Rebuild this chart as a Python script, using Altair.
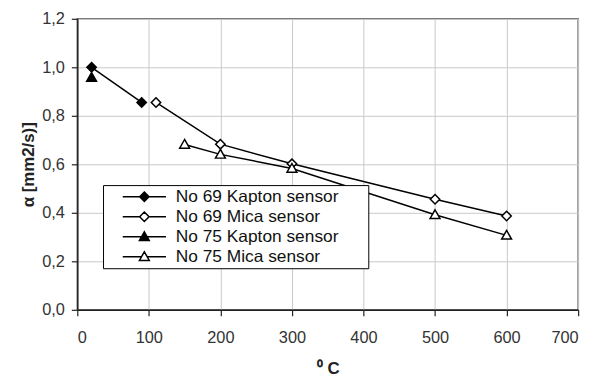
import altair as alt
import pandas as pd

# ---- data ----
series = ["No 69 Kapton sensor", "No 69 Mica sensor", "No 75 Kapton sensor", "No 75 Mica sensor"]

x69k = [20, 90]
y69k = [1.0, 0.855]

x69m = [110, 200, 300, 500, 600]
y69m = [0.855, 0.683, 0.602, 0.456, 0.387]

x75k = [20]
y75k = [0.958]

x75m = [150, 200, 300, 500, 600]
y75m = [0.682, 0.641, 0.583, 0.392, 0.307]

x_ticks = [0, 100, 200, 300, 400, 500, 600, 700]
y_ticks = [0.0, 0.2, 0.4, 0.6, 0.8, 1.0, 1.2]

rows = []
for name, xs, ys in zip(series, [x69k, x69m, x75k, x75m], [y69k, y69m, y75k, y75m]):
    for xv, yv in zip(xs, ys):
        rows.append({"series": name, "x": xv, "y": yv})
df = pd.DataFrame(rows)

# ---- styles ----
FONT = "Liberation Sans"
DIAMOND = "M0,-1L1,0L0,1L-1,0Z"
TRI = "M0,-1.05L1.05,0.8L-1.05,0.8Z"
LEG_DIAMOND = "M-4.6,0H-1M1,0H4.6M0,-1L1,0L0,1L-1,0Z"
LEG_TRI = "M-4.6,0H-0.58M0.58,0H4.6M0,-1.05L1.05,0.8L-1.05,0.8Z"
fills = ["black", "white", "black", "white"]
strokes = ["black", "black", "black", "black"]

x_enc = alt.X(
    "x:Q",
    scale=alt.Scale(domain=[0, 700], nice=False, zero=False),
    axis=alt.Axis(values=x_ticks, title="⁰ C", format="d", labelPadding=14, titlePadding=15),
)
y_enc = alt.Y(
    "y:Q",
    scale=alt.Scale(domain=[0, 1.2], nice=False),
    axis=alt.Axis(
        values=y_ticks,
        title="α [mm2/s)]",
        labelExpr="replace(format(datum.value, '.1f'), '.', ',')",
        labelPadding=7,
        titlePadding=4,
    ),
)

base = alt.Chart(df)

lines = base.mark_line(color="black", strokeWidth=1.5).encode(
    x=x_enc, y=y_enc, detail="series:N"
)

points = base.mark_point(
    filled=True, stroke="black", strokeWidth=1.5, size=90, opacity=1
).encode(
    x=x_enc,
    y=y_enc,
    shape=alt.Shape(
        "series:N",
        scale=alt.Scale(domain=series, range=[DIAMOND, DIAMOND, TRI, TRI]),
        legend=None,
    ),
    fill=alt.Fill("series:N", scale=alt.Scale(domain=series, range=fills), legend=None),
)

leg = alt.Legend(
    title=None,
    orient="none",
    legendX=26,
    legendY=168,
    strokeColor="black",
    fillColor="white",
    padding=3,
    labelFont=FONT,
    labelFontSize=17.5,
    labelColor="#111",
    labelExpr="datum.label + '\u2003\u2002\u200b'",
    symbolSize=90,
    symbolStrokeWidth=1.5,
    symbolOpacity=1,
    symbolOffset=30,
    labelOffset=23,
    rowPadding=1.2,
    labelLimit=400,
)

# legend-only layer: no rows drawn, legend entries come from the explicit scale domain
legend_layer = base.transform_filter("false").mark_point(
    filled=True, strokeWidth=1.5, size=90, opacity=1
).encode(
    x=x_enc,
    y=y_enc,
    shape=alt.Shape(
        "series:N",
        scale=alt.Scale(domain=series, range=[LEG_DIAMOND, LEG_DIAMOND, LEG_TRI, LEG_TRI]),
        legend=leg,
    ),
    fill=alt.Fill("series:N", scale=alt.Scale(domain=series, range=fills), legend=leg),
    stroke=alt.Stroke("series:N", scale=alt.Scale(domain=series, range=strokes), legend=leg),
)

chart = (
    alt.layer(lines, points, legend_layer)
    .resolve_scale(shape="independent", fill="independent", stroke="independent")
    .properties(
        width=506,
        height=294,
        autosize="none",
        padding={"left": 70, "top": 9, "right": 14, "bottom": 69},
        background="white",
    )
    .configure_view(stroke="#666", strokeWidth=1.5)
    .configure_axis(
        labelFont=FONT,
        labelFontSize=16.5,
        labelColor="#333",
        titleFont=FONT,
        titleFontSize=17,
        titleFontWeight="bold",
        titleColor="#222",
        gridColor="#c8c8c8",
        gridWidth=1,
        domainColor="#222",
        domainWidth=1.5,
        tickColor="#222",
        tickSize=6,
        tickWidth=1.2,
    )
)

chart.save("out.html", embed_options={"renderer": "svg", "actions": False})
